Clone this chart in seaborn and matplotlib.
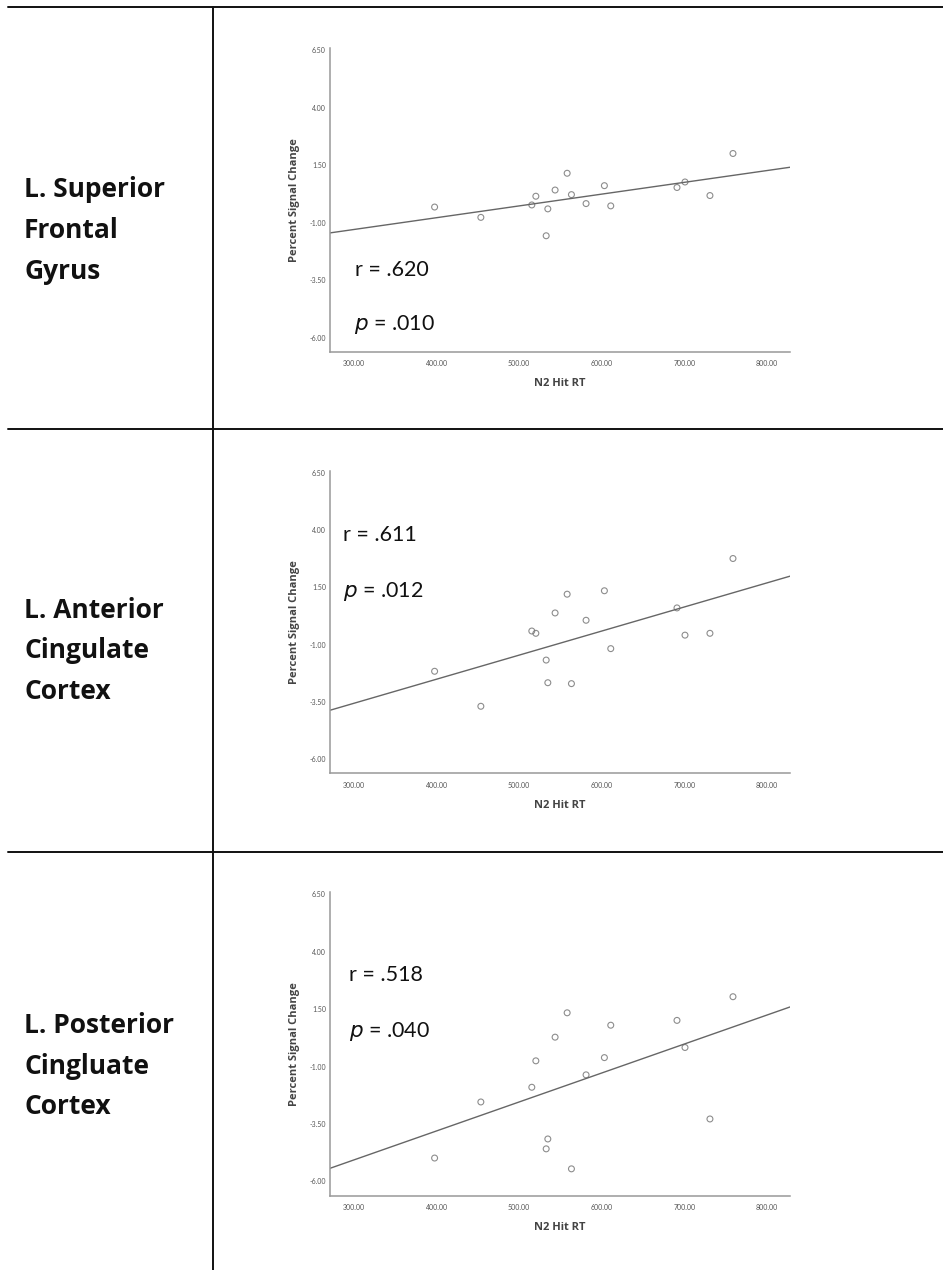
import matplotlib
matplotlib.use("Agg")
import matplotlib.pyplot as plt
from matplotlib.lines import Line2D
import seaborn as sns
import pandas as pd

# ---- data ----
rt = [397.6, 453.6, 515.3, 520.2, 532.7, 534.7, 543.5, 558.1,
      563.3, 581.0, 603.2, 610.9, 691.1, 700.8, 731.0, 758.9]
psc_sfg = [-0.32, -0.77, -0.23, 0.15, -1.57, -0.40, 0.42, 1.15,
           0.22, -0.17, 0.61, -0.27, 0.53, 0.77, 0.18, 2.01]
psc_acc = [-2.17, -3.70, -0.41, -0.51, -1.68, -2.67, 0.38, 1.20,
           -2.71, 0.06, 1.35, -1.18, 0.60, -0.59, -0.51, 2.76]
psc_pcc = [-4.98, -2.54, -1.90, -0.75, -4.58, -4.15, 0.28, 1.34,
           -5.45, -1.36, -0.61, 0.80, 1.01, -0.17, -3.28, 2.04]
region_labels = ["L. Superior\nFrontal\nGyrus",
                 "L. Anterior\nCingulate\nCortex",
                 "L. Posterior\nCingluate\nCortex"]
r_labels = ["r = .620", "r = .611", "r = .518"]
p_values = [".010", ".012", ".040"]
x_ticks = [300, 400, 500, 600, 700, 800]
y_ticks = [-6.0, -3.5, -1.0, 1.5, 4.0, 6.5]
x_label = "N2 Hit RT"
y_label = "Percent Signal Change"

sns.set_theme(style="white")
plt.rcParams['font.family'] = ['Lato', 'DejaVu Sans']

fig = plt.figure(figsize=(9.43, 12.70), dpi=100)

series = [psc_sfg, psc_acc, psc_pcc]
axes_rects = [[0.35, 0.7228, 0.4878, 0.2394],
              [0.35, 0.3911, 0.4878, 0.2383],
              [0.35, 0.0583, 0.4878, 0.2394]]
r_pos = [(0.054, 0.27), (0.028, 0.786), (0.042, 0.727)]
p_pos = [(0.052, 0.089), (0.028, 0.60), (0.042, 0.54)]
label_y = [0.8185, 0.4875, 0.1605]

xlim = (271, 828)
ylim = (-6.63, 6.6)

for i, vals in enumerate(series):
    ax = fig.add_axes(axes_rects[i])
    df = pd.DataFrame({"rt": rt, "psc": vals})
    ax.set_xlim(*xlim)
    ax.set_ylim(*ylim)
    sns.regplot(data=df, x="rt", y="psc", ax=ax, ci=None, truncate=False,
                scatter_kws=dict(s=18, facecolors="none", edgecolors="#707070",
                                 linewidths=0.8),
                line_kws=dict(color="#666666", lw=1.0))
    ax.set_xlim(*xlim)
    ax.set_ylim(*ylim)
    ax.set_xticks(x_ticks)
    ax.set_xticklabels([f"{v:.2f}" for v in x_ticks])
    ax.set_yticks(y_ticks)
    ax.set_yticklabels([f"{v:.2f}" for v in y_ticks])
    ax.tick_params(axis="both", length=0, labelsize=5, colors="#555555")
    ax.tick_params(axis="y", pad=3)
    ax.tick_params(axis="x", pad=6)
    for s in ["top", "right"]:
        ax.spines[s].set_visible(False)
    for s in ["left", "bottom"]:
        ax.spines[s].set_color("#999999")
        ax.spines[s].set_linewidth(1.1)
    ax.set_xlabel(x_label, fontsize=8, fontweight="bold", color="#444444",
                  labelpad=8, family=["Open Sans", "DejaVu Sans"])
    ax.set_ylabel(y_label, fontsize=8, fontweight="bold", color="#444444",
                  labelpad=7, family=["Open Sans", "DejaVu Sans"])
    ax.text(r_pos[i][0], r_pos[i][1], r_labels[i], transform=ax.transAxes,
            fontsize=15.5, color="#111111", va="center", ha="left")
    ax.text(p_pos[i][0], p_pos[i][1], r"$\it{p}$" + " = " + p_values[i],
            transform=ax.transAxes, fontsize=15.5, color="#111111",
            va="center", ha="left")
    fig.text(0.0255, label_y[i], region_labels[i], fontsize=19, fontweight="bold",
             color="#111111", va="center", ha="left", linespacing=1.65,
             family=["Open Sans", "DejaVu Sans"])

# table lines
lc = "#111111"
lw = 1.4
fig.add_artist(Line2D([0.0085, 1.0], [0.9945, 0.9945], color=lc, lw=lw))
fig.add_artist(Line2D([0.0085, 1.0], [0.662, 0.662], color=lc, lw=lw))
fig.add_artist(Line2D([0.0085, 1.0], [0.3294, 0.3294], color=lc, lw=lw))
fig.add_artist(Line2D([0.2259, 0.2259], [0.0, 0.9945], color=lc, lw=lw))

fig.savefig("out.png", dpi=100)
